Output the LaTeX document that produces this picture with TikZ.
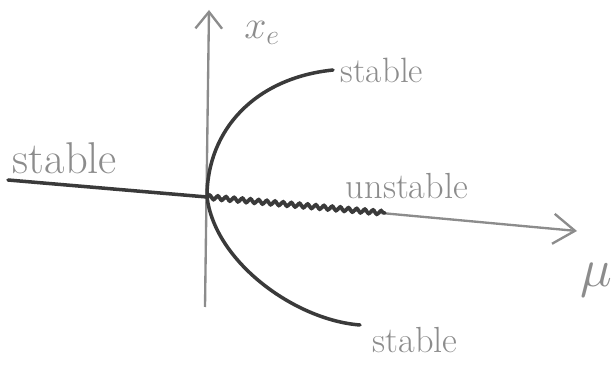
\RequirePackage{fix-cm}
\documentclass[tikz,border=0pt]{standalone}
\usepackage{fontspec}
\usetikzlibrary{arrows.meta,decorations.pathmorphing}
\definecolor{pencil}{HTML}{8C8C8C}
\definecolor{ink}{HTML}{3A3A3A}
\begin{document}
\begin{tikzpicture}
  [
  x=0.03cm, y=-0.03cm,
  axis/.style={draw=pencil, line width=2pt, -{Straight Barb[length=6.5mm, width=9mm, line width=2pt]}},
  branch/.style={draw=ink, line width=3pt, line cap=round},
  wiggle/.style={decorate, decoration={snake, amplitude=1.8pt, segment length=7pt}},
  lbl/.style={text=pencil, inner sep=0pt, font=\fontsize{30}{32}\selectfont}
  ]
  \useasboundingbox (0,0) rectangle (614,376);
  \coordinate (o) at (207,197);
  \coordinate (ytop) at (209,10);
  \coordinate (ybot) at (205,307);
  \coordinate (xleft) at (8,180);
  \coordinate (xtip) at (577,231);
  \coordinate (w) at (385,213);
  \coordinate (up) at (333,70);
  \coordinate (dn) at (360,325);
  % axes
  \draw[axis, -{Straight Barb[length=5mm, width=8mm, line width=2pt]}] (ybot) -- (ytop);
  \draw[axis] (o) -- (xtip);
  % equilibria
  \draw[branch] (xleft) -- (o);
  \draw[branch, wiggle] (o) -- (w);
  \draw[branch] (up) .. controls (255,78) and (207,130) .. (o)
    .. controls (215,262) and (295,320) .. (dn);
  \node[lbl, font=\fontsize{34}{36}\selectfont] (xe) at (262,33) {$x_e$};
  \node[lbl, font=\fontsize{46}{48}\selectfont] (mu) at (596,280) {$\mu$};
  \node[lbl, font=\fontsize{38}{40}\selectfont] (sleft) at (65,158) {stable};
  \node[lbl] (sup) at (382,70) {stable};
  \node[lbl, font=\fontsize{31}{33}\selectfont] (unst) at (407,186) {unstable};
  \node[lbl, font=\fontsize{31}{33}\selectfont] (sdown) at (415,340) {stable};
\end{tikzpicture}
\end{document}
